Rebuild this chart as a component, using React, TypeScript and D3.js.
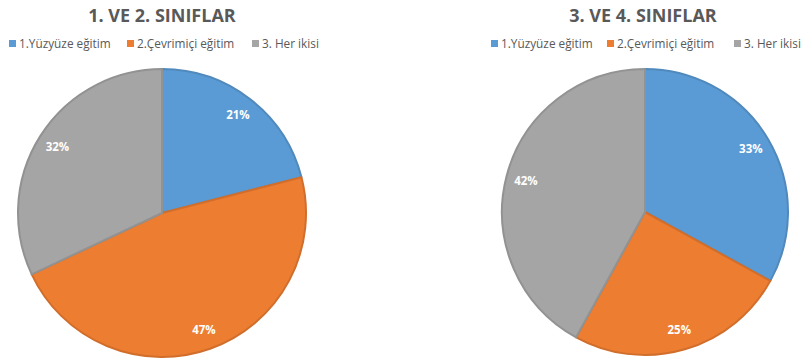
import React from "react";
import * as d3 from "d3";

const categories = ["1.Yüzyüze eğitim", "2.Çevrimiçi eğitim", "3. Her ikisi"];
const titles = ["1. VE 2. SINIFLAR", "3. VE 4. SINIFLAR"];
const values12 = [21, 47, 32];
const values34 = [33, 25, 42];
const colors = ["#5B9BD5", "#ED7D31", "#A5A5A5"];

const W = 801;
const H = 362;

type PieProps = { title: string; values: number[]; cx: number; cy: number; r: number; titleX: number; legendX: number[] };

function Pie({ title, values, cx, cy, r, titleX, legendX }: PieProps) {
  const pie = d3.pie<number>().sort(null).value((d) => d);
  const arcs = pie(values);
  const arc = d3.arc<d3.PieArcDatum<number>>().innerRadius(0).outerRadius(r);
  const labelArc = d3.arc<d3.PieArcDatum<number>>().innerRadius(r * 0.86).outerRadius(r * 0.86);
  return (
    <g>
      <text x={titleX} y={22} textAnchor="middle" fontFamily="Open Sans" fontWeight={700} fontSize={18} fill="#595959">
        {title}
      </text>
      {categories.map((c, i) => (
        <g key={c} transform={`translate(${legendX[i]},0)`}>
          <rect x={0} y={40} width={7} height={7} fill={colors[i]} />
          <text x={10} y={47.5} fontFamily="Open Sans" fontSize={11.8} fill="#595959">
            {c}
          </text>
        </g>
      ))}
      <g transform={`translate(${cx},${cy})`}>
        {arcs.map((a, i) => (
          <path key={i} d={arc(a) || ""} fill={colors[i]} stroke={d3.color(colors[i])!.darker(0.35).toString()} strokeWidth={2} strokeLinejoin="round" />
        ))}
        {arcs.map((a, i) => {
          const [x, y] = labelArc.centroid(a);
          return (
            <text key={"l" + i} x={x} y={y} dy="0.35em" textAnchor="middle" fontFamily="Open Sans" fontWeight={700} fontSize={11.5} fill="#ffffff">
              {values[i]}%
            </text>
          );
        })}
      </g>
    </g>
  );
}

export default function App() {
  return (
    <svg width={W} height={H} style={{ position: "absolute", left: 0, top: 0, background: "#fff" }}>
      <rect width={W} height={H} fill="#fff" />
      <Pie title={titles[0]} values={values12} cx={162} cy={213} r={144} titleX={162} legendX={[9, 127, 252]} />
      <Pie title={titles[1]} values={values34} cx={645} cy={212} r={143} titleX={643} legendX={[491, 607, 734]} />
    </svg>
  );
}
